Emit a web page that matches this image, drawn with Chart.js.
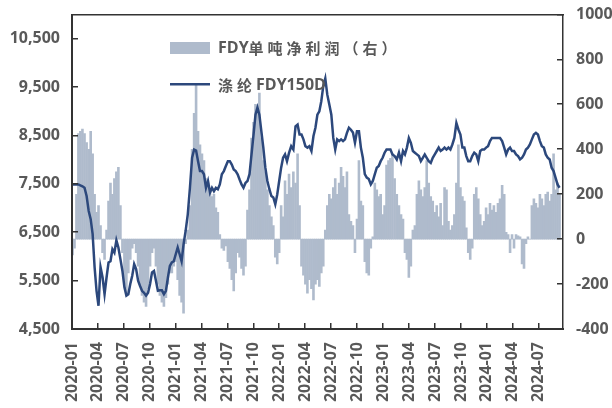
<!DOCTYPE html>
<html>
<head>
<meta charset="utf-8">
<script src="https://cdn.jsdelivr.net/npm/chart.js@4/dist/chart.umd.min.js"></script>
<style>
  html, body { margin: 0; padding: 0; background: #fff; }
  #wrap { width: 612px; height: 408px; position: relative; }
  #wrap canvas { position: absolute; left: 0; top: 0; }
  #frame { pointer-events: none; }
</style>
</head>
<body>
<div id="wrap">
  <canvas id="chart" width="612" height="408"></canvas>
  <canvas id="frame" width="612" height="408"></canvas>
</div>
<script>
// weekly series, first week ending 2020-01-03
const startDate = '2020-01-03';

// 涤纶FDY150D price, yuan/ton (left axis)
const fdyPrice = [
  7490, 7490, 7490, 7490, 7470, 7450, 7420, 7250, 6940, 6770,
  6460, 5780, 5290, 4980, 5780, 5570, 5220, 5570, 5875, 5900,
  6150, 6080, 6335, 6185, 5945, 5700, 5360, 5190, 5220, 5430,
  5600, 5840, 5740, 5500, 5390, 5290, 5250, 5190, 5250, 5430,
  5670, 5700, 5500, 5290, 5300, 5300, 5220, 5290, 5565, 5805,
  5875, 5900, 6045, 6185, 6045, 5900, 6250, 6525, 6870, 7420,
  8040, 8210, 8190, 7970, 7765, 7765, 7700, 7420, 7560, 7320,
  7420, 7350, 7420, 7390, 7490, 7700, 7765, 7870, 7970, 7970,
  7900, 7800, 7765, 7700, 7590, 7490, 7420, 7520, 7560, 7700,
  8110, 8520, 8930, 9080, 8930, 8590, 8250, 7835, 7560, 7390,
  7250, 7220, 7080, 7280, 7560, 7835, 8040, 8110, 7970, 8140,
  8280, 8210, 8690, 8725, 8520, 8520, 8420, 8280, 8250, 8280,
  8180, 8490, 8660, 8930, 9000, 9210, 9520, 9680, 9345, 9140,
  8930, 8450, 8210, 8420, 8385, 8420, 8385, 8420, 8555, 8660,
  8620, 8560, 8350, 8590, 8590, 8250, 8040, 7700, 7630, 7600,
  7490, 7560, 7700, 7835, 7870, 7970, 8040, 8145, 8210, 8210,
  8210, 8110, 8075, 8005, 8145, 7970, 8180, 8110, 8250, 8450,
  8350, 8180, 8145, 8110, 8075, 7970, 8040, 8110, 8040, 7970,
  7935, 8040, 8110, 8180, 8250, 8180, 8210, 8250, 8210, 8250,
  8210, 8315, 8450, 8760, 8625, 8520, 8250, 8250, 8075, 7970,
  7970, 8075, 8145, 8110, 7970, 8180, 8210, 8210, 8250, 8280,
  8385, 8450, 8450, 8450, 8450, 8450, 8385, 8250, 8110, 8210,
  8250, 8180, 8180, 8110, 8075, 8005, 8040, 8110, 8210, 8250,
  8315, 8420, 8520, 8555, 8520, 8385, 8280, 8250, 8110, 8040,
  8005, 7835, 7765, 7630, 7490, 7420
];

// FDY net profit per ton (right axis)
const fdyProfit = [
  -70, -40, 200, 470, 480, 490, 470, 430, 400, 480,
  380, 200, 120, 150, 60, -60, -90, 40, 170, 250,
  200, 270, 300, 320, 150, -60, -200, -250, -150, -90,
  -40, -20, -60, -120, -200, -250, -280, -300, -220, -120,
  -60, -40, -120, -200, -250, -280, -300, -260, -200, -150,
  -150, -120, -100, -180, -250, -280, -330, -20, 40, 150,
  400, 560, 690, 480, 420, 380, 350, 270, 250, 220,
  190, 200, 140, 120, 20, -40, -50, -30, -100, -130,
  -180, -230, -150, -60, -80, -130, -160, -120, 130, 220,
  450, 520, 600, 560, 650, 450, 350, 300, 220, 150,
  100, 60, -80, -110, -60, 150, 100, 260, 200, 290,
  230, 300, 250, 380, 150, -120, -160, -200, -240, -180,
  -220, -270, -200, -180, -210, -150, -120, 40, 150, 200,
  180, 230, 270, 200, 250, 320, 280, 230, 300, 110,
  80, 60, -60, 90, 350, 170, 150, -100, -150, -160,
  -40, 10, 250, 220, 190, 200, 110, 150, 330, 350,
  360, 380, 270, 200, 150, 110, 90, -60, -90, -170,
  -120, 40, 60, 200, 260, 220, 190, 230, 350, 250,
  190, 170, 120, 150, 100, 160, 60, 230, 220, 80,
  40, 60, 110, 250, 420, 230, 190, 170, 50, -60,
  -90, -40, 200, 230, 180, 110, 60, 80, 140, 110,
  160, 130, 150, 120, 160, 180, 240, 200, 30, 20,
  -60, 20, -40, 20, 15, 10, -110, -130, -20, 10,
  0, 150, 180, 160, 140, 200, 180, 150, 200, 210,
  170, 200, 380, 220, 250, 200
];

const seriesNames = ['FDY单吨净利润（右）', '涤纶FDY150D'];

// tick values for each axis (x in months after 2020-01)
const priceTicks = [4500, 5500, 6500, 7500, 8500, 9500, 10500];
const profitTicks = [-400, -200, 0, 200, 400, 600, 800, 1000];
const monthTicks = [0, 3, 6, 9, 12, 15, 18, 21, 24, 27, 30, 33, 36, 39, 42, 45, 48, 51, 54];

const priceMin = 4500, priceMax = 11000;
const profitMin = -400, profitMax = 1000;
const monthMax = 56.8;

const TEXT = '#595959';
const FRAME = '#333333';
const BAR = '#afbbcc';
const LINE = '#2c487c';
const LATIN = '"Open Sans", "Noto Sans CJK SC", sans-serif';
const tickFont = { family: LATIN, size: 16, weight: 'bold' };

// months elapsed since 2020-01-01, fractional
function monthPos(d) {
  const dim = new Date(Date.UTC(d.getUTCFullYear(), d.getUTCMonth() + 1, 0)).getUTCDate();
  return (d.getUTCFullYear() - 2020) * 12 + d.getUTCMonth() + (d.getUTCDate() - 1) / dim;
}

const t0 = Date.parse(startDate + 'T00:00:00Z');
const weekDates = fdyPrice.map((_, i) => new Date(t0 + i * 7 * 864e5));
const xs = weekDates.map(monthPos);

function monthLabel(v) {
  const y = 2020 + Math.floor(v / 12);
  const m = Math.round(v % 12) + 1;
  return y + '-' + String(m).padStart(2, '0');
}

const fixTicks = (list) => (s) => { s.ticks = list.map((v) => ({ value: v })); };

// box around the plot plus short inward tick marks, on the overlay canvas
function drawFrame(chart) {
  const { chartArea: a, scales } = chart;
  const ctx = document.getElementById('frame').getContext('2d');
  ctx.clearRect(0, 0, 612, 408);
  ctx.fillStyle = FRAME;
  const L = Math.round(a.left), R = Math.round(a.right), T = Math.round(a.top), B = Math.round(a.bottom);
  ctx.fillRect(L - 1, T - 1, R - L + 2, 1.5);
  ctx.fillRect(L - 1, B - 1, R - L + 2, 2);
  ctx.fillRect(L - 1, T - 1, 2, B - T + 2);
  ctx.fillRect(R - 1, T - 1, 1.5, B - T + 2);
  scales.y.ticks.forEach((t) => {
    const py = Math.round(scales.y.getPixelForValue(t.value));
    ctx.fillRect(L, py - 1, 6, 1.5);
  });
  scales.y1.ticks.forEach((t) => {
    const py = Math.round(scales.y1.getPixelForValue(t.value));
    ctx.fillRect(R - 6, py - 1, 6, 1.5);
  });
  scales.x.ticks.forEach((t) => {
    const px = Math.round(scales.x.getPixelForValue(t.value));
    ctx.fillRect(px - 1, B - 6, 1.5, 6);
  });
}

// legend drawn inside the plot; CJK glyphs get a wider advance
function drawSpaced(ctx, text, x, y) {
  for (const ch of text) {
    const cjk = /[\u3000-\u9fff\uff00-\uffef]/.test(ch);
    ctx.font = cjk ? '600 15px "Noto Sans CJK SC", sans-serif' : 'bold 16px ' + LATIN;
    ctx.fillText(ch, x, y);
    x += cjk ? 19 : ctx.measureText(ch).width;
  }
}

function drawLegend(chart) {
  const { ctx } = chart;
  const ds = chart.data.datasets;
  ctx.save();
  ctx.textBaseline = 'middle';
  ctx.fillStyle = ds[0].backgroundColor;
  ctx.fillRect(170, 42, 40, 12);
  ctx.fillStyle = TEXT;
  drawSpaced(ctx, ds[0].label, 218, 48);
  ctx.fillStyle = ds[1].borderColor;
  ctx.fillRect(170, 83, 40, 2.5);
  ctx.fillStyle = TEXT;
  drawSpaced(ctx, ds[1].label, 218, 85);
  ctx.restore();
}

const overlayPlugin = {
  id: 'overlay',
  afterDraw(chart) {
    drawLegend(chart);
    drawFrame(chart);
  }
};

new Chart(document.getElementById('chart'), {
  type: 'bar',
  data: {
    datasets: [
      {
        type: 'bar',
        label: seriesNames[0],
        data: xs.map((x, i) => ({ x, y: fdyProfit[i] })),
        yAxisID: 'y1',
        backgroundColor: BAR,
        borderWidth: 0,
        barPercentage: 1,
        categoryPercentage: 1,
        order: 2,
      },
      {
        type: 'line',
        label: seriesNames[1],
        data: xs.map((x, i) => ({ x, y: fdyPrice[i] })),
        yAxisID: 'y',
        borderColor: LINE,
        borderWidth: 2.5,
        pointRadius: 0,
        tension: 0,
        order: 1,
      },
    ],
  },
  options: {
    responsive: false,
    animation: false,
    layout: { padding: { top: 8, left: 0, right: 0, bottom: 0 } },
    plugins: { legend: { display: false }, tooltip: { enabled: false } },
    scales: {
      x: {
        type: 'linear',
        offset: false,
        min: 0,
        max: monthMax,
        grid: { display: false, offset: false },
        border: { display: false },
        afterBuildTicks: fixTicks(monthTicks),
        ticks: {
          autoSkip: false,
          minRotation: 90,
          maxRotation: 90,
          padding: 5,
          color: TEXT,
          font: tickFont,
          callback: (v) => monthLabel(v),
        },
        afterFit(s) { s.height = 79; },
      },
      y: {
        position: 'left',
        min: priceMin,
        max: priceMax,
        grid: { display: false },
        border: { display: false },
        afterBuildTicks: fixTicks(priceTicks),
        ticks: {
          padding: 4,
          color: TEXT,
          font: tickFont,
          callback: (v) => v.toLocaleString('en-US'),
        },
        afterFit(s) { s.width = 72; },
      },
      y1: {
        position: 'right',
        min: profitMin,
        max: profitMax,
        grid: { display: false },
        border: { display: false },
        afterBuildTicks: fixTicks(profitTicks),
        ticks: {
          padding: 5,
          color: TEXT,
          font: tickFont,
          callback: (v) => String(v),
        },
        afterFit(s) { s.width = 49; },
      },
    },
  },
  plugins: [overlayPlugin],
});
</script>
</body>
</html>
